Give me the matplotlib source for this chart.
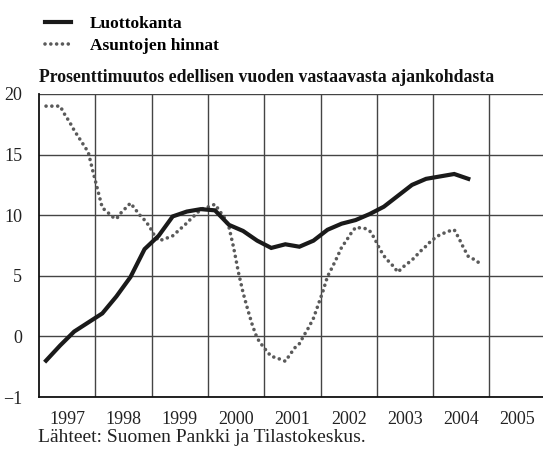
import numpy as np
import matplotlib
matplotlib.use("Agg")
import matplotlib.pyplot as plt

# ---- data ----
credit_values = [-2.0, -0.75, 0.4, 1.15, 1.9, 3.3, 4.9, 7.2, 8.3, 9.9, 10.3, 10.5,
                 10.4, 9.2, 8.7, 7.9, 7.3, 7.6, 7.4, 7.9, 8.8, 9.3, 9.6, 10.1,
                 10.7, 11.6, 12.5, 13.0, 13.2, 13.4, 13.0]
price_values = [19.0, 19.0, 19.0, 19.0, 18.3, 17.7, 17.0, 16.4, 15.8, 15.2, 13.6, 12.1,
                10.6, 10.3, 9.9, 9.7, 10.2, 10.6, 11.0, 10.5, 10.0, 9.6, 9.1, 8.4,
                7.9, 8.0, 8.15, 8.3, 8.65, 9.0, 9.35, 9.75, 10.1, 10.5, 10.6, 10.75,
                10.9, 10.35, 9.8, 9.0, 7.3, 5.3, 3.6, 2.2, 0.9, -0.15, -0.7, -1.2,
                -1.65, -1.75, -1.9, -2.05, -1.5, -0.95, -0.6, 0.1, 0.75, 1.5, 2.6, 3.7,
                4.95, 5.7, 6.5, 7.35, 7.9, 8.5, 9.0, 8.95, 8.9, 8.7, 8.1, 7.3,
                6.65, 6.2, 5.8, 5.3, 5.7, 6.0, 6.3, 6.7, 7.1, 7.45, 7.85, 8.15,
                8.4, 8.55, 8.7, 8.8, 8.1, 7.3, 6.6, 6.4, 6.15, 5.9]
years = [1997, 1998, 1999, 2000, 2001, 2002, 2003, 2004, 2005]
ytick_values = [-5, 0, 5, 10, 15, 20]
ytick_labels = ["\u22121", "0", "5", "10", "15", "20"]
legend_labels = ["Luottokanta", "Asuntojen hinnat"]
title_text = "Prosenttimuutos edellisen vuoden vastaavasta ajankohdasta"
source_text = "L\u00e4hteet: Suomen Pankki ja Tilastokeskus."

start_year = years[0]
price_x = start_year + (np.arange(len(price_values)) + 1.5) / 12.0
credit_x = start_year + (np.arange(len(credit_values)) * 3 + 1.5) / 12.0

plt.rcParams['font.family'] = ['Liberation Serif', 'DejaVu Serif']

W, H = 543, 451
fig = plt.figure(figsize=(W / 100, H / 100), dpi=100)
ax = fig.add_axes([39 / W, 1 - 397 / H, 1 - 39 / W, (397 - 94) / H])

l1, = ax.plot(credit_x, credit_values, color="#1a1a1a", lw=3.0, solid_joinstyle="miter",
              label=legend_labels[0], zorder=4)
l2, = ax.plot(price_x, price_values, color="#5a5a5a", lw=2.6, linestyle=(0, (0.01, 1.6)),
              dash_capstyle="round", label=legend_labels[1], zorder=3)

ax.set_xlim(start_year, start_year + 504 / 56.3)
ax.set_ylim(ytick_values[0], ytick_values[-1])

ax.set_xticks(years[1:])
ax.set_xticks([y + 0.5 for y in years], minor=True)
ax.set_xticklabels([])
ax.set_xticklabels([str(y) for y in years], minor=True)
ax.set_yticks(ytick_values)
ax.set_yticklabels(ytick_labels)

ax.tick_params(axis="both", which="both", length=0, labelsize=13, colors="#222222")
ax.tick_params(axis="x", which="minor", pad=10)
ax.tick_params(axis="y", pad=12)

ax.grid(True, which="major", color="#444444", lw=1.0)
ax.set_axisbelow(True)
for s in ["top", "right"]:
    ax.spines[s].set_visible(False)
ax.spines["left"].set_color("#111111")
ax.spines["bottom"].set_color("#111111")
ax.spines["left"].set_linewidth(1.3)
ax.spines["bottom"].set_linewidth(1.3)

fig.text(39 / W, 1 - 77 / H, title_text, fontsize=12.8, fontweight="bold",
         ha="left", va="center", color="#111111")
fig.text(38 / W, 1 - 438 / H, source_text, fontsize=14, ha="left", va="center",
         color="#222222")

fig.legend(handles=[l1, l2], loc="upper left", bbox_to_anchor=(29 / W, 1 - 0 / H),
           frameon=False, handlelength=1.5, handletextpad=1.1, labelspacing=0.35,
           prop={"size": 12.5, "weight": "bold"})

fig.savefig("out.png", dpi=100)
